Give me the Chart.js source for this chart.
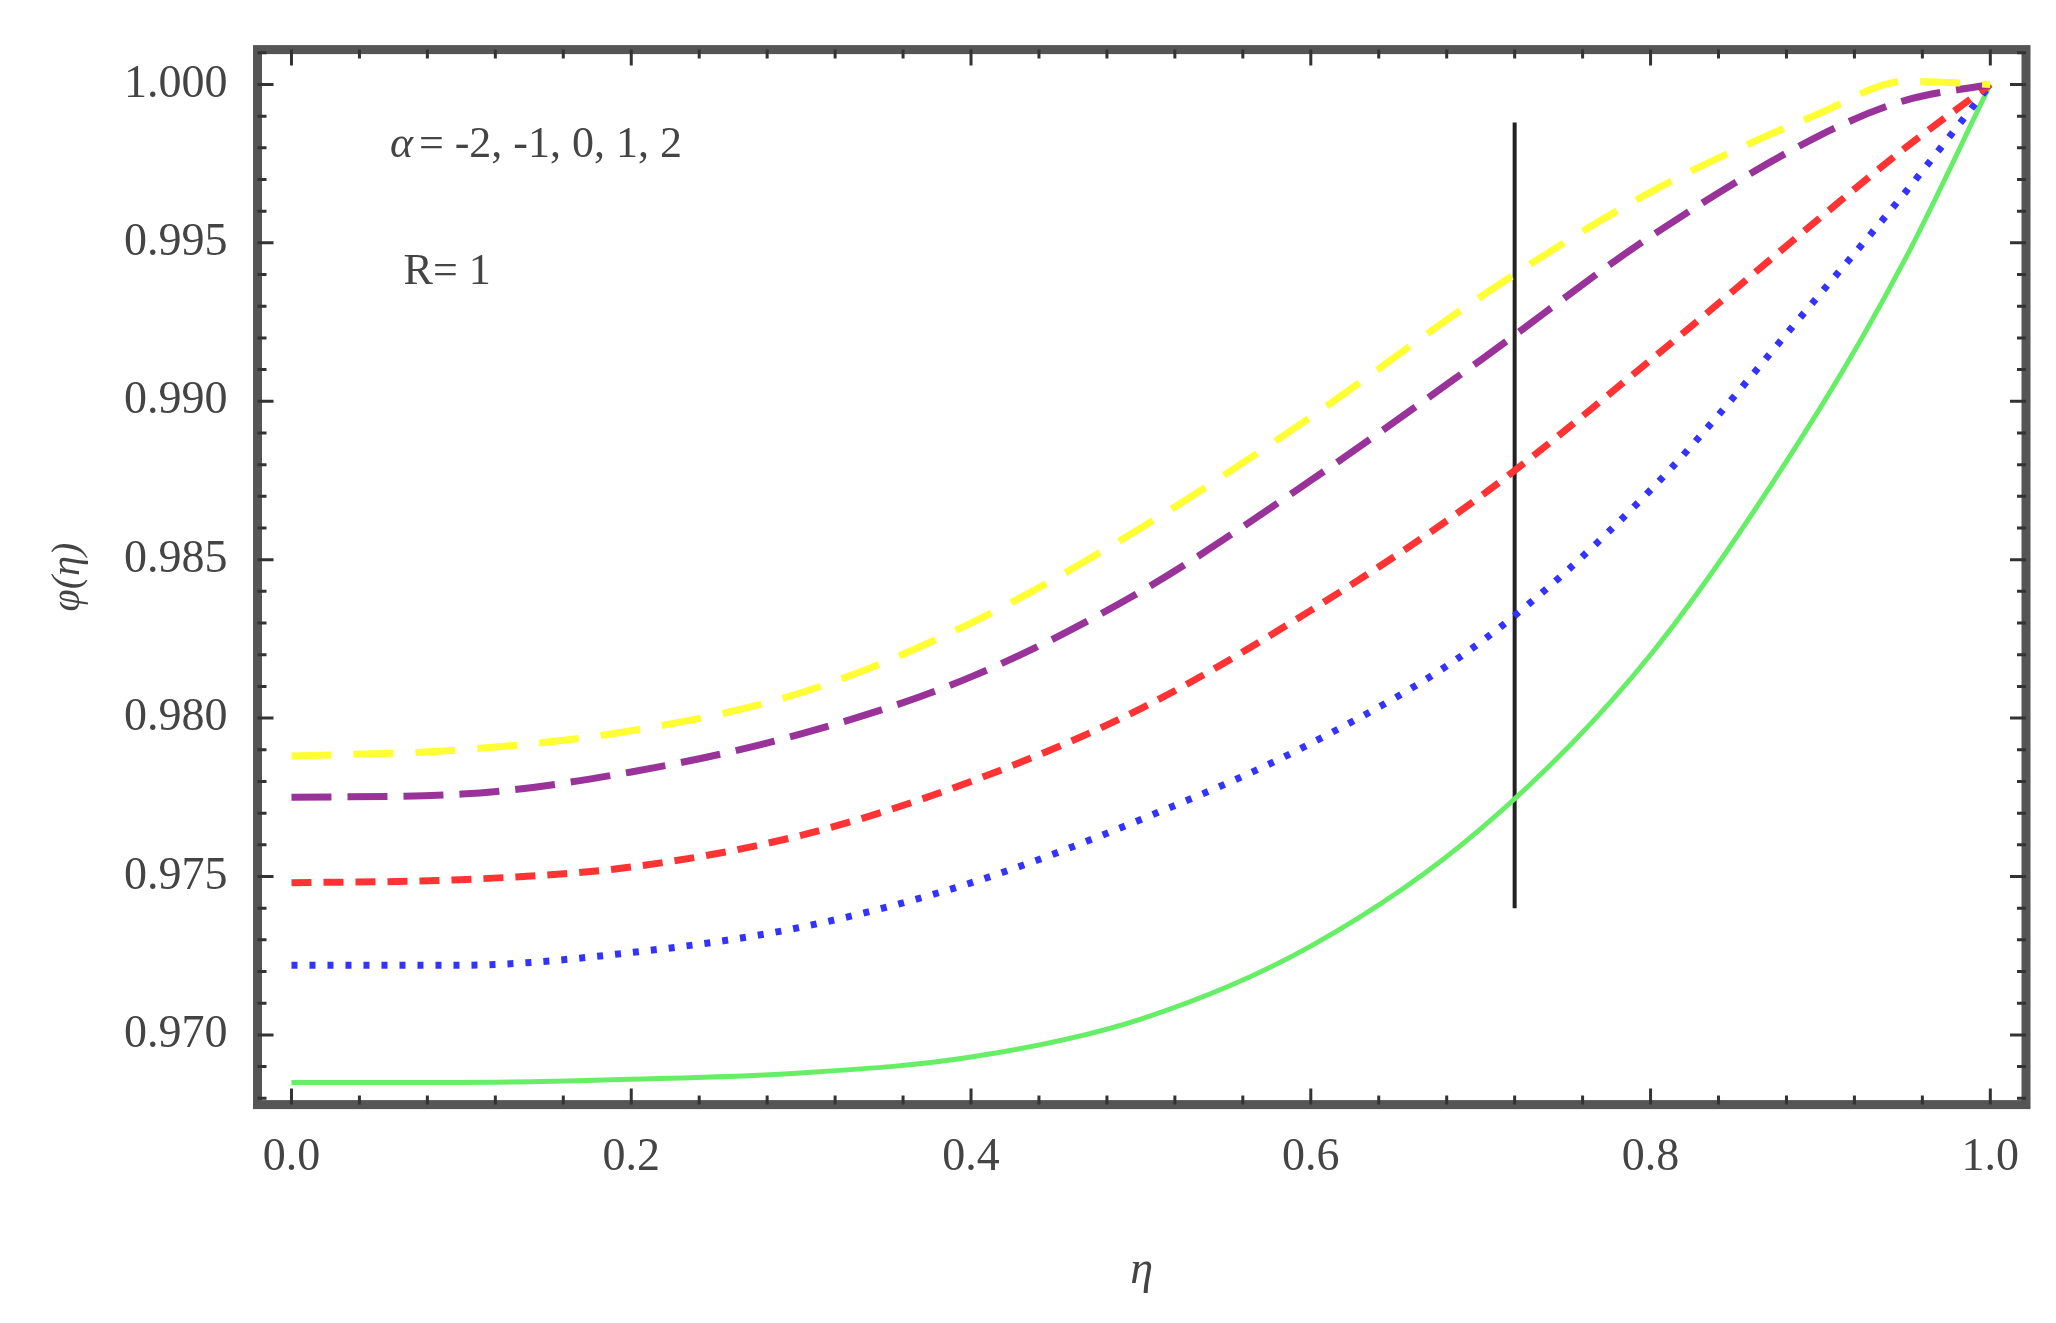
<!DOCTYPE html>
<html><head><meta charset="utf-8">
<script src="https://cdn.jsdelivr.net/npm/chart.js@4/dist/chart.umd.min.js"></script>
<style>body{margin:0;background:#fff}#wrap{width:2056px;height:1323px}</style>
</head><body><div id="wrap"><canvas id="c"></canvas></div>
<script>
const etaValues = [0, 0.1, 0.2, 0.3, 0.4, 0.5, 0.6, 0.7, 0.8, 0.9, 0.95, 1.0]
const yellowSeries = [0.9788, 0.9790, 0.9796, 0.9808, 0.9830, 0.9860, 0.9895, 0.9933, 0.9966, 0.9991, 1.0001, 1.0000]
const purpleSeries = [0.9775, 0.9776, 0.9783, 0.9795, 0.9813, 0.9840, 0.9875, 0.9913, 0.9952, 0.9984, 0.9995, 1.0000]
const redSeries = [0.9748, 0.9749, 0.9753, 0.9763, 0.9780, 0.9803, 0.9834, 0.9870, 0.9913, 0.9958, 0.9980, 1.0000]
const blueSeries = [0.9722, 0.9722, 0.9726, 0.9734, 0.9748, 0.9768, 0.9792, 0.9824, 0.9872, 0.9934, 0.9966, 1.0000]
const greenSeries = [0.9685, 0.9685, 0.9686, 0.9688, 0.9693, 0.9705, 0.9728, 0.9765, 0.9820, 0.9898, 0.9945, 1.0000]
const arrowX = [0.72, 0.72]
const arrowY = [0.9740, 0.9988]

const pts = (ys) => etaValues.map((x, i) => ({ x: x, y: ys[i] }))
const line = (ys, color, dash, width) => ({
  data: pts(ys), borderColor: color, borderDash: dash, borderWidth: width,
  pointRadius: 0, showLine: true, cubicInterpolationMode: 'monotone'
})

const decor = {
  id: 'decor',
  afterDraw(chart) {
    const { ctx, chartArea: a, scales: { x, y } } = chart
    ctx.save()
    ctx.strokeStyle = '#555'
    ctx.lineWidth = 9
    ctx.strokeRect(a.left, a.top, a.right - a.left, a.bottom - a.top)
    ctx.strokeStyle = '#333'
    ctx.lineWidth = 3
    for (let v = 0; v <= 1.0001; v += 0.04) {
      const px = x.getPixelForValue(v)
      const len = Math.abs((v * 5) % 1) < 0.01 || Math.abs((v * 5) % 1) > 0.99 ? 16 : 9
      ctx.beginPath(); ctx.moveTo(px, a.bottom); ctx.lineTo(px, a.bottom - len)
      ctx.moveTo(px, a.top); ctx.lineTo(px, a.top + len); ctx.stroke()
    }
    for (let v = 0.968; v <= 1.0011; v += 0.001) {
      const py = y.getPixelForValue(v)
      const major = Math.abs(Math.round(v * 200) - v * 200) < 0.01
      const len = major ? 16 : 9
      ctx.beginPath(); ctx.moveTo(a.left, py); ctx.lineTo(a.left + len, py)
      ctx.moveTo(a.right, py); ctx.lineTo(a.right - len, py); ctx.stroke()
    }
    ctx.fillStyle = '#444'
    ctx.font = 'italic 44px "Liberation Serif"'
    ctx.fillText('α', x.getPixelForValue(0.058), y.getPixelForValue(0.9977))
    ctx.font = '44px "Liberation Serif"'
    ctx.fillText('= -2, -1, 0, 1, 2', x.getPixelForValue(0.075), y.getPixelForValue(0.9977))
    ctx.fillText('R= 1', x.getPixelForValue(0.066), y.getPixelForValue(0.9937))
    ctx.restore()
  }
}

new Chart(document.getElementById('c'), {
  type: 'scatter',
  data: {
    datasets: [
      line(yellowSeries, '#ffff33', [40, 22], 7),
      line(purpleSeries, '#993399', [40, 16], 7),
      line(redSeries, '#ff3333', [20, 12], 7),
      line(blueSeries, '#3333ff', [6, 12], 7),
      line(greenSeries, '#66ee66', [], 5),
      { data: arrowX.map((x, i) => ({ x: x, y: arrowY[i] })), borderColor: '#222', borderWidth: 4, pointRadius: 0, showLine: true }
    ]
  },
  options: {
    responsive: true, maintainAspectRatio: false, animation: false,
    layout: { padding: { left: 40, right: 30, top: 22, bottom: 20 } },
    plugins: { legend: { display: false }, tooltip: { enabled: false } },
    scales: {
      x: {
        min: -0.02, max: 1.021,
        grid: { display: false },
        border: { display: false },
        afterBuildTicks: (s) => { s.ticks = [0, 0.2, 0.4, 0.6, 0.8, 1.0].map(v => ({ value: v })) },
        ticks: { color: '#444', font: { family: 'Liberation Serif', size: 46 }, padding: 18, callback: v => v.toFixed(1) },
        title: { display: true, text: 'η', color: '#444', font: { family: 'Liberation Serif', size: 46, style: 'italic' }, padding: { top: 40 } }
      },
      y: {
        min: 0.9678, max: 1.0011,
        grid: { display: false },
        border: { display: false },
        afterBuildTicks: (s) => { s.ticks = [0.970, 0.975, 0.980, 0.985, 0.990, 0.995, 1.000].map(v => ({ value: v })) },
        ticks: { color: '#444', font: { family: 'Liberation Serif', size: 46 }, padding: 22, callback: v => v.toFixed(3) },
        title: { display: true, text: 'φ(η)', color: '#444', font: { family: 'Liberation Serif', size: 40, style: 'italic' }, padding: { bottom: 10 } }
      }
    }
  },
  plugins: [decor]
})
</script></body></html>
